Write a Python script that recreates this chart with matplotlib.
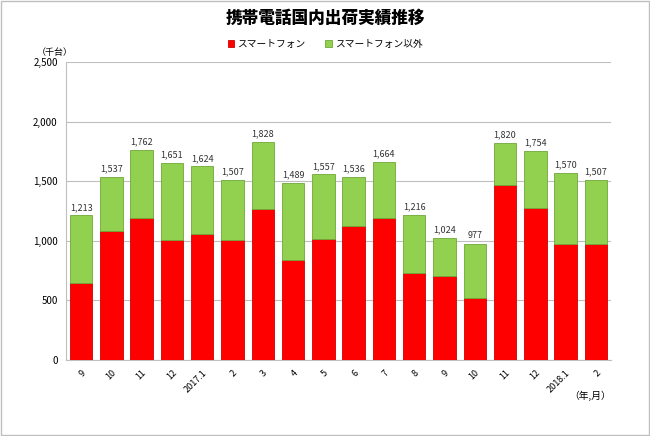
import matplotlib
matplotlib.use("Agg")
import matplotlib.pyplot as plt
import numpy as np

plt.rcParams['font.family'] = ['Noto Sans CJK JP', 'DejaVu Sans']

months = ['9', '10', '11', '12', '2017.1', '2', '3', '4', '5', '6', '7', '8',
          '9', '10', '11', '12', '2018.1', '2']
totals = [1213, 1537, 1762, 1651, 1624, 1507, 1828, 1489, 1557, 1536, 1664, 1216,
          1024, 977, 1820, 1754, 1570, 1507]
smart = [644, 1084, 1190, 1008, 1053, 1006, 1269, 838, 1014, 1123, 1193, 734,
         703, 521, 1468, 1275, 972, 972]
other = [t - s for t, s in zip(totals, smart)]

fig = plt.figure(figsize=(6.5, 4.36), dpi=100)
ax = fig.add_axes([66 / 650, 1 - 360 / 436, 545 / 650, 298 / 436])

x = np.arange(len(months))
w = 0.74
ax.bar(x, smart, w, color='#ff0000', edgecolor='#d00000', linewidth=0.6,
       label='スマートフォン', zorder=3)
ax.bar(x, other, w, bottom=smart, color='#92d050', edgecolor='#6fa83a',
       linewidth=0.6, label='スマートフォン以外', zorder=3)

for xi, t in zip(x, totals):
    ax.text(xi, t + 30, f'{t:,}', ha='center', va='bottom', fontsize=6.5,
            color='#333333')

ax.set_xlim(-0.5, len(months) - 0.5)
ax.set_ylim(0, 2500)
ax.set_yticks(range(0, 2501, 500))
ax.set_yticklabels([f'{v:,}' for v in range(0, 2501, 500)], fontsize=7)
ax.set_xticks(x)
ax.set_xticklabels(months, rotation=45, ha='right', rotation_mode='anchor',
                   fontsize=6.5)
ax.tick_params(length=0, pad=6)
ax.grid(axis='y', color='#bfbfbf', linewidth=0.8, zorder=0)
for s in ['top', 'right']:
    ax.spines[s].set_visible(False)
for s in ['left', 'bottom']:
    ax.spines[s].set_color('#bfbfbf')

fig.text(0.5, 1 - 18 / 436, '携帯電話国内出荷実績推移', ha='center', va='center',
         fontsize=12, fontweight='black')
fig.legend(loc='center', bbox_to_anchor=(0.5, 1 - 44 / 436), ncol=2,
           frameon=False, fontsize=7, handlelength=0.7, handleheight=0.7,
           columnspacing=2.0, handletextpad=0.3)
fig.text(55 / 650, 1 - 52 / 436, '（千台）', ha='center', va='center', fontsize=6.5)
fig.text(590 / 650, 1 - 396 / 436, '（年,月）', ha='center', va='center', fontsize=7)

fig.patches.append(plt.Rectangle((0.002, 0.002), 0.996, 0.996, transform=fig.transFigure,
                                 fill=False, edgecolor='#bfbfbf', linewidth=1))

fig.savefig('out.png', dpi=100)
